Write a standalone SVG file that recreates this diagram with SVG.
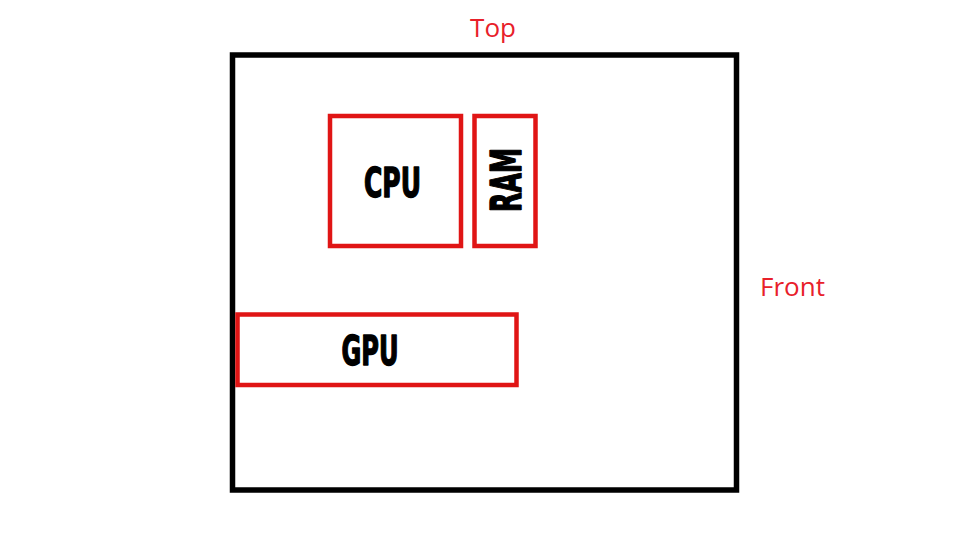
<svg xmlns="http://www.w3.org/2000/svg" width="970" height="546" viewBox="0 0 970 546">
<style>
.frame{fill:#fff;stroke:#000;stroke-width:5.5}
.box{fill:none;stroke:#e01515;stroke-width:4.5}
.lbl{font-family:"Liberation Sans Narrow","DejaVu Sans Condensed","Liberation Sans",sans-serif;font-weight:bold;fill:#000;stroke:#000;stroke-width:1.4;stroke-linejoin:round;text-anchor:middle}
.side{font-family:"Open Sans","Noto Sans",sans-serif;font-size:26px;fill:#e8202a}
</style>
<rect width="970" height="546" fill="#fff"/>
<g id="case"><rect class="frame" x="232.5" y="55" width="504" height="435"/></g>
<g id="top"><text class="side" x="493" y="37" text-anchor="middle">Top</text></g>
<g id="front"><text class="side" x="760" y="296">Front</text></g>
<g id="cpu"><rect class="box" x="330" y="116" width="131" height="130"/><text class="lbl" x="392.5" y="197" font-size="41" textLength="57" lengthAdjust="spacingAndGlyphs">CPU</text></g>
<g id="ram"><rect class="box" x="474.5" y="116" width="61" height="130"/><text class="lbl" transform="translate(520.5 180) rotate(-90)" x="0" y="0" font-size="42" textLength="64" lengthAdjust="spacingAndGlyphs">RAM</text></g>
<g id="gpu"><rect class="box" x="237.5" y="314.5" width="279" height="70.5"/><text class="lbl" x="370" y="365" font-size="41" textLength="57" lengthAdjust="spacingAndGlyphs">GPU</text></g>
<g id="connectors"/>
</svg>
